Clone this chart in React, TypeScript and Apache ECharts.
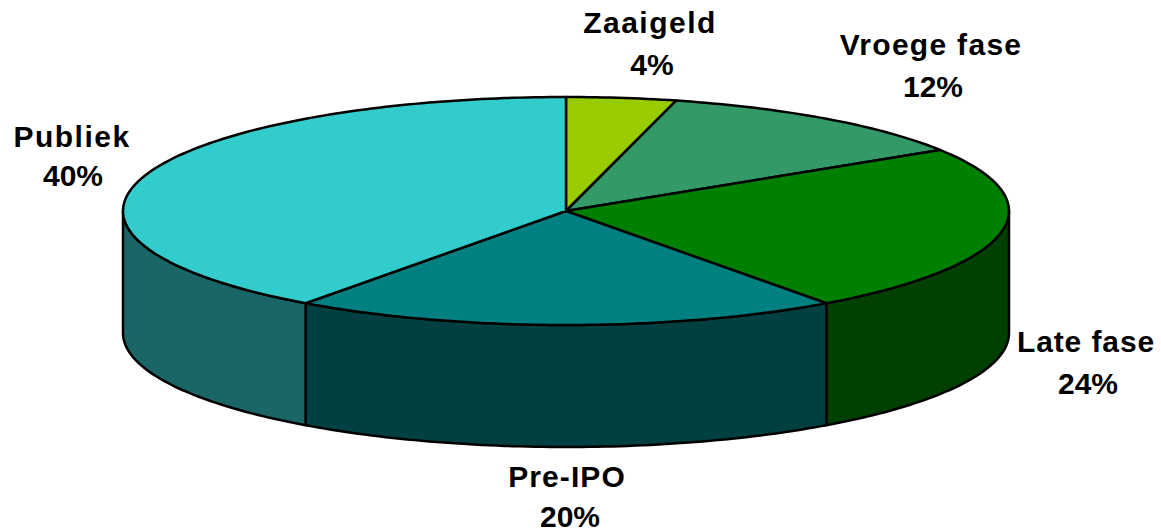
import React, { useEffect, useRef } from "react";
import * as echarts from "echarts";

const categories = ["Zaaigeld", "Vroege fase", "Late fase", "Pre-IPO", "Publiek"];
const values = [4, 12, 24, 20, 40];
const topColors = ["#99CC00", "#339966", "#008000", "#008080", "#33CCCC"];
const sideColors = ["#4D6600", "#1A4D33", "#004000", "#004040", "#1A6666"];
// label: x of the name, y of the name, x of the percentage, y of the percentage
const labelPositions = [
  [650, 22, 652, 64],
  [931, 44, 933, 86],
  [1086, 341, 1088, 383],
  [567, 476, 570, 516],
  [72, 136, 73, 175],
];
const nameSpacing = [1.5, 1.3, 0.9, 1.1, 1.5];

const CX = 566;
const CY = 211;
const RX = 443;
const RY = 114;
const DEPTH = 122;
const TOTAL = values.reduce((a, b) => a + b, 0);
const FONT = 'bold 30px "Liberation Sans", Arial, sans-serif';

const pt = (deg: number, dy = 0): [number, number] => {
  const r = (deg * Math.PI) / 180;
  return [CX + RX * Math.sin(r), CY - RY * Math.cos(r) + dy];
};

const arc = (a: number, b: number, dy = 0): [number, number][] => {
  const out: [number, number][] = [];
  const n = Math.max(2, Math.ceil(Math.abs(b - a)));
  for (let i = 0; i <= n; i++) out.push(pt(a + ((b - a) * i) / n, dy));
  return out;
};

const lineStyle = { stroke: "#000", lineWidth: 2.5, lineJoin: "round" as const };

export default function App() {
  const ref = useRef<HTMLDivElement>(null);
  useEffect(() => {
    const chart = echarts.init(ref.current!, undefined, { renderer: "svg" });
    const sum = (i: number) => values.slice(0, i).reduce((a, b) => a + b, 0);
    const label = (text: string, x: number, y: number) => ({
      type: "text",
      style: {
        text,
        x,
        y,
        align: "center",
        verticalAlign: "middle",
        fill: "#000",
        font: FONT,
      },
    });
    const renderSlice = (params: any) => {
      const i = params.dataIndex;
      const a = (sum(i) / TOTAL) * 360;
      const b = (sum(i + 1) / TOTAL) * 360;
      const children: any[] = [];
      const s = Math.max(a, 90);
      const e = Math.min(b, 270);
      if (s < e) {
        children.push({
          type: "polygon",
          shape: { points: [...arc(s, e), ...arc(e, s, DEPTH)] },
          style: { fill: sideColors[i], ...lineStyle },
        });
      }
      children.push({
        type: "polygon",
        shape: { points: [[CX, CY], ...arc(a, b)] },
        style: { fill: topColors[i], ...lineStyle },
      });
      const [nx, ny, px, py] = labelPositions[i];
      children.push(label(categories[i], nx, ny));
      children.push(label(`${values[i]}%`, px, py));
      return { type: "group", children };
    };
    chart.setOption({
      animation: false,
      backgroundColor: "#fff",
      series: [
        {
          type: "custom",
          coordinateSystem: "none",
          renderItem: renderSlice,
          data: values.map((v, i) => ({ name: categories[i], value: v })),
        },
      ],
    });
    ref.current!.querySelectorAll("text").forEach((t) => {
      const idx = categories.indexOf(t.textContent || "");
      if (idx >= 0) (t as SVGTextElement).style.letterSpacing = `${nameSpacing[idx]}px`;
    });
    return () => chart.dispose();
  }, []);
  return <div ref={ref} style={{ width: 1161, height: 532, position: "fixed", left: 0, top: 0 }} />;
}
